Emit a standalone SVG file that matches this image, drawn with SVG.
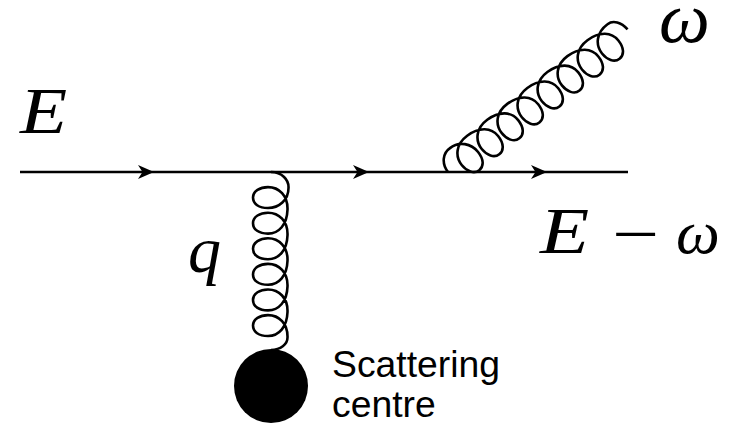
<svg xmlns="http://www.w3.org/2000/svg" width="731" height="425" viewBox="0 0 731 425">
<style>
.line{fill:none;stroke:#000;stroke-width:2.4}
.gluon{fill:none;stroke:#000;stroke-width:2.6}
.math{font-family:"Liberation Serif",serif;font-style:italic;fill:#000}
.label{font-family:"Liberation Sans",sans-serif;font-size:37.3px;fill:#000}
</style>
<defs>
<path id="head" d="M-15,-7 L1,0 L-15,7 L-10.5,0 Z" fill="#000"/>
</defs>
<rect width="731" height="425" fill="#fff"/>
<g id="connectors">
<path class="line" d="M20,172 H628"/>
<use href="#head" x="153" y="172"/>
<use href="#head" x="368" y="172"/>
<use href="#head" x="546" y="172"/>
<path class="gluon" d="M271,172 C282,172 289,180 288.5,188 c0,12 -9.5,20 -20.5,20 c-9,0 -15,-4 -15,-10.4 c0,-6.6 7,-10.5 15,-10.5
c11,0 20,8.5 19.5,22.5 c-.5,15 -8.5,24 -19.5,24 c-9,0 -15,-4 -15,-10.4 c0,-6.6 7,-10.5 15,-10.5
c11,0 20,8.5 19.5,22.5 c-.5,15 -8.5,24 -19.5,24 c-9,0 -15,-4 -15,-10.4 c0,-6.6 7,-10.5 15,-10.5
c11,0 20,8.5 19.5,22.5 c-.5,15 -8.5,24 -19.5,24 c-9,0 -15,-4 -15,-10.4 c0,-6.6 7,-10.5 15,-10.5
c11,0 20,8.5 19.5,22.5 c-.5,15 -8.5,24 -19.5,24 c-9,0 -15,-4 -15,-10.4 c0,-6.6 7,-10.5 15,-10.5
c11,0 20,8.5 19.5,22.5 c-.5,15 -8.5,24 -19.5,24 c-9,0 -15,-4 -15,-10.4 c0,-6.6 7,-10.5 15,-10.5
c11,0 20,8.5 19.5,22.5 c0,7 -7,12 -16.5,12.5"/>
<path class="gluon" transform="matrix(-.622,-.783,.783,-.622,481.9,491.2)" d="M271,172 C282,172 289,180 288.5,188 c0,12 -9.5,20 -20.5,20 c-9,0 -15,-4 -15,-10.4 c0,-6.6 7,-10.5 15,-10.5
c11,0 20,8.5 19.5,22.5 c-.5,15 -8.5,24 -19.5,24 c-9,0 -15,-4 -15,-10.4 c0,-6.6 7,-10.5 15,-10.5
c11,0 20,8.5 19.5,22.5 c-.5,15 -8.5,24 -19.5,24 c-9,0 -15,-4 -15,-10.4 c0,-6.6 7,-10.5 15,-10.5
c11,0 20,8.5 19.5,22.5 c-.5,15 -8.5,24 -19.5,24 c-9,0 -15,-4 -15,-10.4 c0,-6.6 7,-10.5 15,-10.5
c11,0 20,8.5 19.5,22.5 c-.5,15 -8.5,24 -19.5,24 c-9,0 -15,-4 -15,-10.4 c0,-6.6 7,-10.5 15,-10.5
c11,0 20,8.5 19.5,22.5 c-.5,15 -8.5,24 -19.5,24 c-9,0 -15,-4 -15,-10.4 c0,-6.6 7,-10.5 15,-10.5
c11,0 20,8.5 19.5,22.5 c-.5,15 -8.5,24 -19.5,24 c-9,0 -15,-4 -15,-10.4 c0,-6.6 7,-10.5 15,-10.5
c11,0 20,8.5 19.5,22.5 c-.5,15 -8.5,24 -19.5,24 c-9,0 -15,-4 -15,-10.4 c0,-6.6 7,-10.5 15,-10.5
c11,0 20,8.5 19.5,22.5 c0,7 -7,12 -16.5,12.5"/>
</g>
<g id="scattering-centre">
<circle cx="271" cy="386" r="37" fill="#000"/>
<text class="label" x="332" y="377">Scattering</text>
<text class="label" x="332" y="417">centre</text>
</g>
<g id="label-E"><text class="math" transform="translate(20,133) scale(1.17,1)" font-size="66">E</text></g>
<g id="label-omega"><text class="math" x="659" y="42" font-size="72">ω</text></g>
<g id="label-q"><text class="math" x="188" y="272" font-size="66">q</text></g>
<g id="label-E-omega">
<text class="math" transform="translate(540,253) scale(1.22,1)" font-size="66">E</text>
<text transform="translate(612,257) scale(1.23,1)" font-family="Liberation Serif,serif" font-size="68" fill="#000">−</text>
<text class="math" x="676" y="253" font-size="62">ω</text>
</g>
</svg>
